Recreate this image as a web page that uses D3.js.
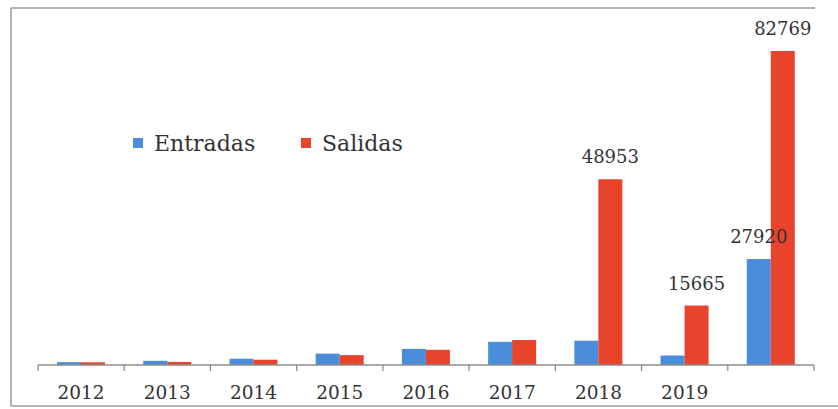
<!DOCTYPE html>
<html>
<head>
<meta charset="utf-8">
<script src="https://cdn.jsdelivr.net/npm/d3@7"></script>
<style>
  html, body { margin: 0; padding: 0; background: #fff; }
  svg { display: block; }
</style>
</head>
<body>
<svg id="chart"></svg>
<script>
// values (small years are estimates)
const years = ['2012', '2013', '2014', '2015', '2016', '2017', '2018', '2019', '2020'];
const tickLabels = ['2012', '2013', '2014', '2015', '2016', '2017', '2018', '2019', ''];
const entradas = [750, 1100, 1650, 3000, 4250, 6100, 6400, 2500, 27920];
const salidas = [700, 800, 1400, 2600, 4000, 6600, 48953, 15665, 82769];
const seriesNames = ['Entradas', 'Salidas'];
const labelMin = 10000; // only the big bars carry a value label

const W = 838, H = 409;
const colors = { Entradas: '#4a8edb', Salidas: '#e8432b' };
const font = "'DejaVu Serif', serif";

const svg = d3.select('#chart').attr('width', W).attr('height', H);

// scan frame (left, top, bottom)
const frame = svg.append('g').attr('stroke', '#9a9a9a').attr('stroke-width', 1.5).attr('fill', 'none');
frame.append('line').attr('x1', 11).attr('y1', 8).attr('x2', 11).attr('y2', 406);
frame.append('line').attr('x1', 11).attr('y1', 8).attr('x2', 815).attr('y2', 8);
frame.append('line').attr('x1', 11).attr('y1', 406).attr('x2', 838).attr('y2', 406);

const x0 = d3.scaleBand().domain(years).range([38, 814]).padding(0);
const x1 = d3.scaleBand().domain(seriesNames).range([19, 67]).padding(0);
const y = d3.scaleLinear().domain([0, 82769]).range([365, 51]);

const rows = years.map((yr, i) => ({ year: yr, Entradas: entradas[i], Salidas: salidas[i] }));

const groups = svg.selectAll('g.grp')
  .data(rows)
  .enter()
  .append('g')
  .attr('class', 'grp')
  .attr('transform', d => `translate(${x0(d.year)},0)`);

groups.selectAll('rect')
  .data(d => seriesNames.map(s => ({ key: s, value: d[s] })))
  .enter()
  .append('rect')
  .attr('x', d => x1(d.key))
  .attr('width', x1.bandwidth())
  .attr('y', d => y(d.value))
  .attr('height', d => y(0) - y(d.value))
  .attr('fill', d => colors[d.key]);

groups.selectAll('text.val')
  .data(d => seriesNames.map(s => ({ key: s, value: d[s] })).filter(v => v.value > labelMin))
  .enter()
  .append('text')
  .attr('class', 'val')
  .attr('x', d => x1(d.key) + x1.bandwidth() / 2)
  .attr('y', d => y(d.value) - 16)
  .attr('text-anchor', 'middle')
  .attr('font-family', font)
  .attr('font-size', '18px')
  .attr('fill', '#333')
  .text(d => d.value);

// x axis with ticks between the groups
const axis = svg.append('g').attr('transform', `translate(0,${y(0)})`);
axis.append('line')
  .attr('x1', 38).attr('x2', 814)
  .attr('stroke', '#8c8c8c').attr('stroke-width', 1.3);
axis.selectAll('line.tick')
  .data(years.map(d => x0(d)).concat([x0.range()[1]]))
  .enter()
  .append('line')
  .attr('class', 'tick')
  .attr('x1', d => d).attr('x2', d => d)
  .attr('y1', 0).attr('y2', 6)
  .attr('stroke', '#8c8c8c').attr('stroke-width', 1.3);
axis.selectAll('text')
  .data(years)
  .enter()
  .append('text')
  .attr('x', d => x0(d) + x0.bandwidth() / 2)
  .attr('y', 34)
  .attr('text-anchor', 'middle')
  .attr('font-family', font)
  .attr('font-size', '18.5px')
  .attr('fill', '#333')
  .text((d, i) => tickLabels[i]);

// legend
const legendX = [133, 301];
const legend = svg.selectAll('g.leg')
  .data(seriesNames)
  .enter()
  .append('g')
  .attr('class', 'leg')
  .attr('transform', (d, i) => `translate(${legendX[i]},138)`);
legend.append('rect')
  .attr('width', 10).attr('height', 10)
  .attr('fill', d => colors[d]);
legend.append('text')
  .attr('x', 21).attr('y', 13)
  .attr('font-family', font)
  .attr('font-size', '22px')
  .attr('fill', '#333')
  .text(d => d);
</script>
</body>
</html>
